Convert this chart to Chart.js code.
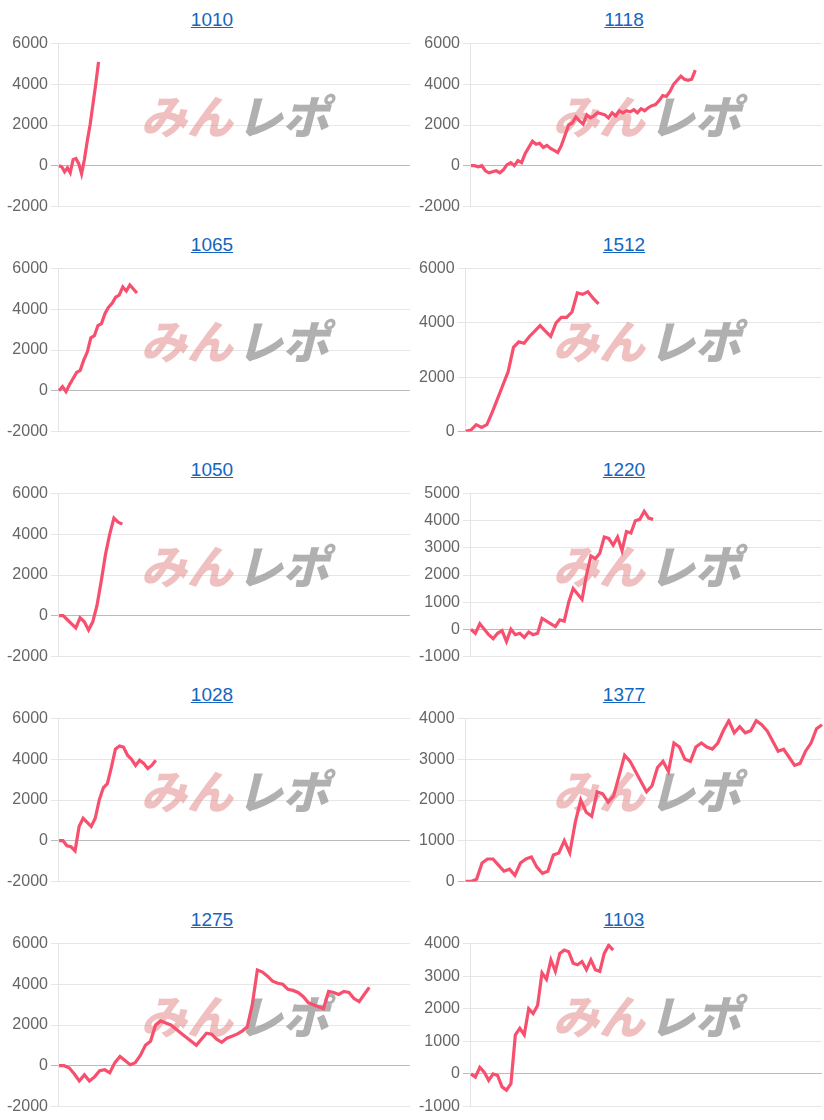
<!DOCTYPE html>
<html><head><meta charset="utf-8">
<script src="https://cdn.jsdelivr.net/npm/chart.js@4"></script>
<style>
body{margin:0;background:#fff;font-family:Arial,"Liberation Sans",sans-serif;}
#grid{display:grid;grid-template-columns:412px 412px;width:824px;}
.panel{height:225px;position:relative;}
.title{height:31px;text-align:center;font-size:19px;line-height:40px;padding-left:12px;}
.title a{color:#1565c0;text-decoration:underline;}
.cw{position:absolute;top:31px;left:0;width:412px;height:188px;}
</style></head><body>
<div id="grid"></div>
<script>
const titles=["1010","1118","1065","1512","1050","1220","1028","1377","1275","1103"];
const s1010=[0,-50,-300,-100,-350,300,350,100,-400,300,1200,2000,3000,4000,5100];
const s1118=[0,0,-50,0,-250,-350,-300,-250,-350,-200,50,150,0,250,150,600,900,1200,1050,1100,900,1000,850,750,650,1000,1500,2000,2100,2400,2200,2050,2500,2350,2450,2600,2550,2500,2350,2600,2450,2700,2600,2700,2650,2750,2600,2800,2700,2850,2950,3000,3200,3450,3400,3650,4000,4200,4400,4250,4200,4250,4700];
const s1065=[0,200,-50,300,600,900,1000,1500,1900,2600,2700,3200,3300,3800,4100,4300,4600,4700,5100,4900,5200,5000,4800];
const s1512=[0,50,250,150,250,700,1200,1700,2200,3100,3300,3250,3500,3700,3900,3700,3500,4000,4200,4200,4400,5100,5050,5150,4900,4700];
const s1050=[0,0,-200,-400,-600,-100,-300,-700,-300,500,1700,3000,4000,4800,4600,4500];
const s1220=[0,-150,200,0,-200,-350,-150,-50,-450,0,-200,-150,-300,-100,-200,-150,400,300,200,100,350,300,1000,1500,1300,1100,2000,2700,2600,2800,3400,3350,3100,3400,2900,3600,3550,4000,4050,4350,4100,4050];
const s1028=[0,0,-250,-300,-500,700,1100,900,700,1100,2000,2600,2800,3600,4500,4650,4600,4200,4000,3700,3950,3800,3550,3700,3950];
const s1377=[0,0,50,450,550,550,400,250,300,150,450,550,600,350,200,250,650,700,1000,700,1450,2000,1700,1600,2200,2150,1950,2100,2600,3100,2950,2700,2450,2200,2350,2800,2950,2700,3400,3300,3000,2950,3300,3400,3300,3250,3400,3700,3950,3650,3800,3650,3700,3950,3850,3700,3450,3200,3250,3050,2850,2900,3200,3400,3750,3850];
const s1275=[0,0,-100,-400,-750,-450,-750,-550,-250,-200,-350,150,450,250,50,150,500,1000,1200,2000,2200,2100,2000,1800,1600,1400,1200,1000,1300,1600,1550,1300,1150,1350,1450,1550,1700,1900,3000,4700,4600,4400,4150,4050,4000,3750,3700,3600,3400,3100,3000,2900,2800,3650,3600,3500,3650,3600,3300,3150,3500,3850];
const s1103=[0,-100,200,50,-200,0,-50,-400,-500,-300,1200,1400,1200,2000,1850,2100,3100,2900,3500,3150,3700,3800,3750,3400,3350,3450,3200,3500,3200,3150,3700,3950,3800];
const series=[s1010,s1118,s1065,s1512,s1050,s1220,s1028,s1377,s1275,s1103];
const slots=[125,98,100,68,84,80,88,66,70,80];
const yMin=[-2000,-2000,-2000,0,-2000,-1000,-2000,0,-2000,-1000];
const yMax=[6000,6000,6000,6000,6000,5000,6000,4000,6000,4000];
const ySteps=[2000,2000,2000,2000,2000,1000,2000,1000,2000,1000];

const watermark={id:'wm',beforeDatasetsDraw(c){const x=c.ctx;x.save();
 const cx=c.width*0.565,cy=86;x.font='italic 900 46px "Noto Sans CJK JP"';x.textBaseline='middle';
 x.fillStyle='rgba(225,130,130,0.5)';x.textAlign='right';x.fillText('みん',cx,cy);
 x.fillStyle='rgba(150,150,150,0.75)';x.textAlign='left';x.fillText('レポ',cx+4,cy);x.restore();}};

const grid=document.getElementById('grid');
titles.forEach((t,i)=>{
 const p=document.createElement('div');p.className='panel';
 p.innerHTML='<div class="title"><a href="#">'+t+'</a></div><div class="cw"><canvas></canvas></div>';
 grid.appendChild(p);
 const labels=Array.from({length:slots[i]},(_,k)=>String(k+1));
 new Chart(p.querySelector('canvas'),{type:'line',
  data:{labels,datasets:[{data:series[i],borderColor:'#f7506f',borderWidth:3.2,pointRadius:0,tension:0,fill:false}]},
  options:{responsive:true,maintainAspectRatio:false,animation:false,
   layout:{padding:{top:4,right:2,left:4}},
   plugins:{legend:{display:false},tooltip:{enabled:false}},
   scales:{x:{offset:false,ticks:{display:false},grid:{display:false},border:{display:false}},
    y:{min:yMin[i],max:yMax[i],ticks:{stepSize:ySteps[i],color:'#666',font:{size:16,family:'Arial'},callback:v=>String(v)},
     border:{display:true,color:'#e4e4e4'},
     grid:{color:ctx=>ctx.tick.value===0?'#bbb':'#e6e6e6',lineWidth:1}}}},
  plugins:[watermark]});
});
</script></body></html>
